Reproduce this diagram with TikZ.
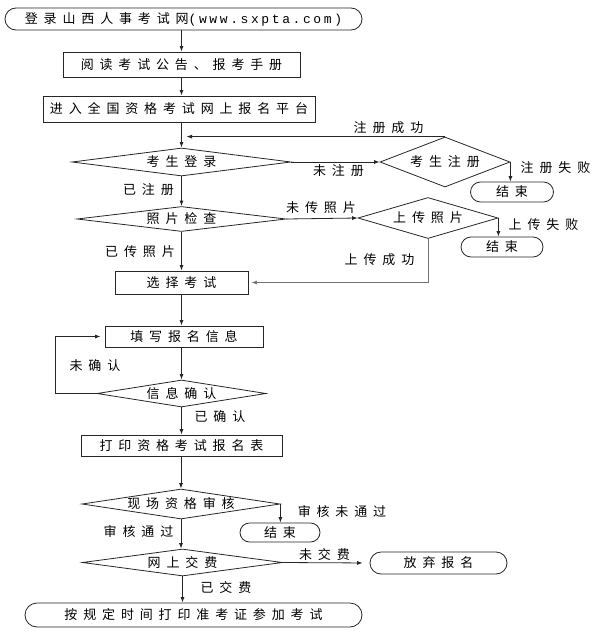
\documentclass[tikz,border=0pt]{standalone}
\usepackage{fontspec}
\setmainfont{Noto Sans CJK SC}[LetterSpace=45]
\newfontfamily\urlfont{Liberation Mono}[LetterSpace=20]
\usetikzlibrary{shapes.geometric,shapes.misc,arrows.meta}
\newcommand{\dt}[1]{\makebox[0pt]{#1}}
\tikzset{
  base/.style={draw=black!85, line width=0.8pt, inner sep=0pt, font=\fontsize{13}{15}\selectfont, text=black},
  box/.style={base, rectangle},
  term/.style={base, rounded rectangle},
  dia/.style={base, diamond},
  lbl/.style={inner sep=0pt, font=\fontsize{13}{15}\selectfont, text=black},
  arr/.style={draw=black!85, line width=0.8pt, -{Latex[length=5.5pt,width=4pt]}},
}
\begin{document}
\begin{tikzpicture}[x=1pt,y=-1pt]
\useasboundingbox (0,0) rectangle (596,637);
% nodes
\node[term, minimum width=357, minimum height=22] (start) at (183.5,19) {登录山西人事考试网{\urlfont(www.sxpta.com)}};
\node[box, minimum width=237, minimum height=25] (b1) at (181.5,64.5) {阅读考试公告、报考手册};
\node[box, minimum width=272, minimum height=26] (b2) at (179,109) {进入全国资格考试网上报名平台};
\node[dia, minimum width=219, minimum height=28] (d1) at (181.5,162) {\dt{考生登录}};
\node[dia, minimum width=130, minimum height=50] (d2) at (445,162) {\dt{考生注册}};
\node[term, minimum width=83, minimum height=20] (e1) at (512,192) {结束};
\node[dia, minimum width=209, minimum height=25] (d3) at (181.5,219) {\dt{照片检查}};
\node[dia, minimum width=140, minimum height=41] (d4) at (428,218) {\dt{上传照片}};
\node[term, minimum width=82, minimum height=20] (e2) at (502,247) {结束};
\node[box, minimum width=133, minimum height=23] (b3) at (181.5,282.5) {选择考试};
\node[box, minimum width=158, minimum height=21] (b4) at (184,336.5) {填写报名信息};
\node[dia, minimum width=169, minimum height=27] (d5) at (181.5,393.5) {\dt{信息确认}};
\node[box, minimum width=201, minimum height=21] (b5) at (181.5,445.5) {打印资格考试报名表};
\node[dia, minimum width=198, minimum height=30] (d6) at (181,504) {\dt{现场资格审核}};
\node[term, minimum width=80, minimum height=19] (e3) at (280,532.5) {结束};
\node[dia, minimum width=200, minimum height=27] (d7) at (182.5,562.5) {\dt{网上交费}};
\node[term, minimum width=137, minimum height=22] (e4) at (438.5,563) {放弃报名};
\node[term, minimum width=337, minimum height=24] (e5) at (193.5,615) {按规定时间打印准考证参加考试};
% labels
\node[lbl] (l1) at (388.5,128) {注册成功};
\node[lbl] (l2) at (338.5,171) {未注册};
\node[lbl] (l3) at (555.5,168) {注册失败};
\node[lbl] (l4) at (148.5,190) {已注册};
\node[lbl] (l5) at (321,208) {未传照片};
\node[lbl] (l6) at (543.5,225) {上传失败};
\node[lbl] (l7) at (140,252) {已传照片};
\node[lbl] (l8) at (379.5,260) {上传成功};
\node[lbl] (l9) at (95,366) {未确认};
\node[lbl] (l10) at (220,417) {已确认};
\node[lbl] (l11) at (342,512) {审核未通过};
\node[lbl] (l12) at (138.5,532) {审核通过};
\node[lbl] (l13) at (324.5,555) {未交费};
\node[lbl] (l14) at (226,588) {已交费};
% connectors
\draw[arr] (b1.north |- start.south) -- (b1.north);
\draw[arr] (b1.south) -- (b1.south |- b2.north);
\draw[arr] (b2.south -| d1.north) -- (d1.north);
\draw[arr, shorten >=5pt] (d2.north) -- (d2.north -| d1.north);
\draw[arr] (d1.east) -- (d2.west);
\draw[arr] (d2.east) -- (d2.east |- e1.north);
\draw[arr] (d1.south) -- (d3.north);
\draw[arr] (d3.east) -- (d4.west);
\draw[arr] (d4.east) -- (d4.east |- e2.north);
\draw[arr] (d3.south) -- (d3.south |- b3.north);
\draw[arr, draw=black!55, shorten >=3pt] (d4.south) |- (b3.east);
\draw[arr] (b3.south) -- (b3.south |- b4.north);
\draw[arr] (b4.south -| d5.north) -- (d5.north);
\draw[arr, shorten >=4pt] (d5.west) -- ++(-41,0) |- (b4.west);
\draw[arr] (d5.south) -- (d5.south |- b5.north);
\draw[arr] (b5.south -| d6.north) -- (d6.north);
\draw[arr] (d6.east) -- (d6.east |- e3.north);
\draw[arr] (d6.south) -- (d6.south |- d7.north);
\draw[arr, shorten >=7pt] (d7.east) -- (e4.west);
\draw[arr] (d7.south) -- (d7.south |- e5.north);
\end{tikzpicture}
\end{document}
